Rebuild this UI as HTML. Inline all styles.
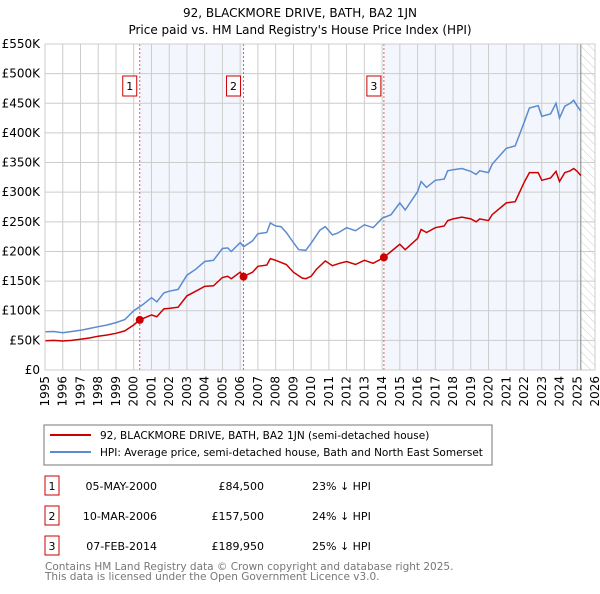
<!DOCTYPE html>
<html><head><meta charset="utf-8"><style>
body{margin:0;background:#fff;font-family:"DejaVu Sans",sans-serif;}
svg text{font-family:"DejaVu Sans",sans-serif;}
</style></head><body>
<svg id="chart" width="600" height="590" xmlns="http://www.w3.org/2000/svg">
<defs><pattern id="hatch" width="6" height="6" patternUnits="userSpaceOnUse" patternTransform="rotate(-45)"><line x1="0" y1="0" x2="0" y2="6" stroke="#ccc" stroke-width="1"/></pattern></defs>
<text x="300" y="17" text-anchor="middle" font-size="12">92, BLACKMORE DRIVE, BATH, BA2 1JN</text>
<text x="300" y="34" text-anchor="middle" font-size="12">Price paid vs. HM Land Registry's House Price Index (HPI)</text>
<g id="plot"></g>
<rect x="44" y="425" width="448" height="40" fill="#fff" stroke="#777"/>
<line x1="50" y1="435" x2="91" y2="435" stroke="#cc0000" stroke-width="2"/>
<text x="100" y="439" font-size="10.5">92, BLACKMORE DRIVE, BATH, BA2 1JN (semi-detached house)</text>
<line x1="50" y1="452" x2="91" y2="452" stroke="#5b8bd0" stroke-width="2"/>
<text x="100" y="456" font-size="10.5">HPI: Average price, semi-detached house, Bath and North East Somerset</text>
<g font-size="11">
<rect x="45" y="476" width="14" height="19" fill="#fff" stroke="#cc0000"/><text x="52" y="490" text-anchor="middle">1</text>
<text x="157" y="490" text-anchor="end">05-MAY-2000</text><text x="264" y="490" text-anchor="end">£84,500</text><text x="312" y="490">23% ↓ HPI</text>
<rect x="45" y="506" width="14" height="19" fill="#fff" stroke="#cc0000"/><text x="52" y="520" text-anchor="middle">2</text>
<text x="157" y="520" text-anchor="end">10-MAR-2006</text><text x="264" y="520" text-anchor="end">£157,500</text><text x="312" y="520">24% ↓ HPI</text>
<rect x="45" y="536" width="14" height="19" fill="#fff" stroke="#cc0000"/><text x="52" y="550" text-anchor="middle">3</text>
<text x="157" y="550" text-anchor="end">07-FEB-2014</text><text x="264" y="550" text-anchor="end">£189,950</text><text x="312" y="550">25% ↓ HPI</text>
</g>
<text x="45" y="570" font-size="10.5" fill="#777">Contains HM Land Registry data © Crown copyright and database right 2025.</text>
<text x="45" y="580" font-size="10.5" fill="#777">This data is licensed under the Open Government Licence v3.0.</text>
</svg>
<script>
const hpiYears=[1995,1995.5,1996,1996.5,1997,1997.5,1998,1998.5,1999,1999.5,2000,2000.5,2001,2001.3,2001.7,2002,2002.5,2003,2003.5,2004,2004.5,2005,2005.3,2005.5,2006,2006.2,2006.7,2007,2007.5,2007.7,2008,2008.3,2008.6,2009,2009.3,2009.7,2010,2010.5,2010.8,2011.2,2011.5,2012,2012.5,2013,2013.5,2014,2014.5,2015,2015.3,2016,2016.2,2016.5,2017,2017.5,2017.7,2018,2018.5,2019,2019.3,2019.5,2020,2020.2,2021,2021.5,2022,2022.3,2022.8,2023,2023.5,2023.8,2024,2024.3,2024.6,2024.8,2025,2025.2];
const hpiValues=[64700,65000,63000,65000,67000,70000,73000,76000,80000,85000,100000,110000,122000,115000,130000,133000,136000,160000,170000,183000,185000,205000,206000,200000,215000,208000,218000,230000,232000,248000,243000,242000,232000,215000,203000,202000,214000,236000,242000,228000,231000,240000,235000,245000,240000,256000,262000,282000,270000,301000,318000,308000,320000,322000,336000,338000,340000,335000,330000,336000,333000,347000,374000,378000,417000,442000,446000,428000,432000,450000,425000,445000,450000,455000,445000,437000];
const priceYears=[1995,1995.5,1996,1996.5,1997,1997.5,1998,1998.5,1999,1999.5,2000,2000.34,2001,2001.3,2001.7,2002,2002.5,2003,2003.5,2004,2004.5,2005,2005.3,2005.5,2006,2006.19,2006.7,2007,2007.5,2007.7,2008,2008.6,2009,2009.5,2009.7,2010,2010.3,2010.8,2011.2,2011.6,2012,2012.5,2013,2013.5,2014.1,2014.5,2015,2015.3,2016,2016.2,2016.5,2017,2017.5,2017.7,2018,2018.5,2019,2019.3,2019.5,2020,2020.2,2021,2021.5,2022,2022.3,2022.8,2023,2023.5,2023.8,2024,2024.3,2024.6,2024.8,2025,2025.2];
const priceValues=[49500,50000,49000,50000,52000,54000,57000,59000,62000,66000,76000,84500,93000,90000,103000,104000,106000,125000,133000,141000,142000,156000,158000,154000,165000,157500,165000,175000,177000,188000,185000,178000,165000,155000,154000,158000,170000,184000,176000,180000,183000,178000,185000,180000,190000,200000,212000,203000,222000,237000,232000,240000,243000,252000,255000,258000,255000,250000,255000,252000,262000,282000,284000,316000,333000,333000,320000,324000,335000,318000,333000,336000,340000,335000,328000];
const saleYears=[2000.34,2006.19,2014.1];
const saleValues=[84500,157500,189950];
const saleLabels=["1","2","3"];
const yTicks=[0,50000,100000,150000,200000,250000,300000,350000,400000,450000,500000,550000];
const yTickLabels=["£0","£50K","£100K","£150K","£200K","£250K","£300K","£350K","£400K","£450K","£500K","£550K"];
const xTicks=[1995,1996,1997,1998,1999,2000,2001,2002,2003,2004,2005,2006,2007,2008,2009,2010,2011,2012,2013,2014,2015,2016,2017,2018,2019,2020,2021,2022,2023,2024,2025,2026];
const dataEnd=2025.2;

const L=45,R=595,T=44,B=370;
const x=y=>L+(y-1995)/(2026-1995)*(R-L);
const yv=v=>B-v/550000*(B-T);
const NS="http://www.w3.org/2000/svg";
const g=document.getElementById('plot');
function mk(tag,attrs,parent){const e=document.createElementNS(NS,tag);for(const k in attrs)e.setAttribute(k,attrs[k]);(parent||g).appendChild(e);return e;}
let sh=mk('rect',{x:x(saleYears[0]),y:T,width:x(saleYears[1])-x(saleYears[0]),height:B-T,fill:'#eef3fc',opacity:0.7});


let sh2=mk('rect',{x:x(saleYears[2]),y:T,width:x(dataEnd)-x(saleYears[2]),height:B-T,fill:'#eef3fc',opacity:0.7});


let ht=mk('rect',{x:x(dataEnd),y:T,width:R-x(dataEnd),height:B-T,fill:'url(#hatch)'});


xTicks.forEach(t=>{let l=mk('line',{x1:x(t),x2:x(t),y1:T,y2:B,stroke:'#ccc'});


let tx=mk('text',{x:0,y:0,'font-size':12,'text-anchor':'end',transform:`translate(${x(t)+4},${B+6}) rotate(-90)`});tx.textContent=t;

});
yTicks.forEach((t,i)=>{let l=mk('line',{x1:L,x2:R,y1:yv(t),y2:yv(t),stroke:'#ccc'});


let tx=mk('text',{x:40,y:yv(t)+4,'font-size':12,'text-anchor':'end'});tx.textContent=yTickLabels[i];

});
let el=mk('line',{x1:x(dataEnd),x2:x(dataEnd),y1:T,y2:B,stroke:'#888'});


saleYears.forEach((s,i)=>{let l=mk('line',{x1:x(s),x2:x(s),y1:T,y2:B,stroke:'#e06060','stroke-dasharray':'2,2'});


let b=mk('rect',{x:x(s)-17,y:76,width:14,height:20,fill:'#fff',stroke:'#cc0000'});


let t=mk('text',{x:x(s)-10,y:90,'font-size':11,'text-anchor':'middle'});t.textContent=saleLabels[i];

});
const pts=(xs,vs)=>xs.map((a,i)=>x(a).toFixed(1)+','+yv(vs[i]).toFixed(1)).join(' ');
let hl=mk('polyline',{points:pts(hpiYears,hpiValues),fill:'none',stroke:'#5b8bd0','stroke-width':1.5});


let pl=mk('polyline',{points:pts(priceYears,priceValues),fill:'none',stroke:'#cc0000','stroke-width':1.5});


saleYears.forEach((s,i)=>{let c=mk('circle',{cx:x(s),cy:yv(saleValues[i]),r:4,fill:'#cc0000'});

});
let fr=mk('rect',{x:L,y:T,width:R-L,height:B-T,fill:'none',stroke:'#ccc'});


</script>
</body></html>
